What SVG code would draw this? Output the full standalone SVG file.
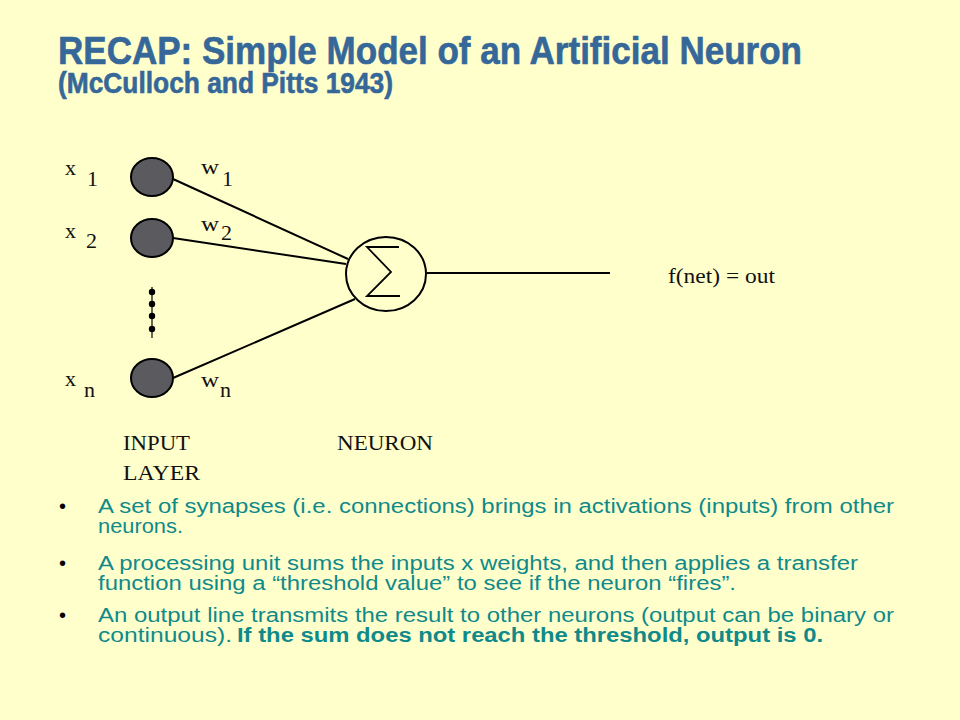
<svg xmlns="http://www.w3.org/2000/svg" width="960" height="720" viewBox="0 0 960 720">
<style>
.title{font-family:"Liberation Sans",Arial,sans-serif;font-weight:bold;fill:#356799;stroke:#356799;stroke-width:0.6}
.lbl{font-family:"Liberation Serif","Times New Roman",serif;fill:#111;font-size:22px}
.cap{font-family:"Liberation Serif","Times New Roman",serif;fill:#111;font-size:20px}
.body{font-family:"Liberation Sans",Arial,sans-serif;font-size:20px;fill:#0f8a8a}
.bul{font-family:"Liberation Sans",Arial,sans-serif;font-size:20px;fill:#000}
.inp{fill:#5b5b5f;stroke:#000;stroke-width:2}
.edge{stroke:#000;stroke-width:2;fill:none}
</style>
<rect width="960" height="720" fill="#ffffcc"/>
<text class="title" x="58" y="64" font-size="38" textLength="744" lengthAdjust="spacingAndGlyphs">RECAP: Simple Model of an Artificial Neuron</text>
<text class="title" x="58" y="93" font-size="29" textLength="335" lengthAdjust="spacingAndGlyphs">(McCulloch and Pitts 1943)</text>

<g id="connectors">
<line class="edge" x1="173" y1="179" x2="348" y2="259"/>
<line class="edge" x1="173" y1="238" x2="346" y2="264"/>
<line class="edge" x1="173" y1="378" x2="355" y2="299"/>
<line class="edge" x1="427" y1="273" x2="610" y2="273"/>
<line stroke="#000" stroke-width="1.2" x1="152" y1="287" x2="152" y2="338"/>
</g>

<g id="x1"><ellipse class="inp" cx="152" cy="177" rx="21" ry="19"/>
<text class="lbl" x="65" y="175" textLength="11" lengthAdjust="spacingAndGlyphs">x</text><text class="lbl" x="87" y="186">1</text></g>
<g id="x2"><ellipse class="inp" cx="152" cy="238" rx="21" ry="19"/>
<text class="lbl" x="65" y="238" textLength="11" lengthAdjust="spacingAndGlyphs">x</text><text class="lbl" x="86" y="248">2</text></g>
<g id="dots">
<circle cx="152" cy="292" r="3.2"/><circle cx="152" cy="304" r="3.2"/><circle cx="152" cy="316" r="3.2"/><circle cx="152" cy="329" r="3.2"/>
</g>
<g id="xn"><ellipse class="inp" cx="152" cy="378" rx="21" ry="19"/>
<text class="lbl" x="65" y="386" textLength="11" lengthAdjust="spacingAndGlyphs">x</text><text class="lbl" x="84" y="397">n</text></g>

<g id="w-labels">
<text class="lbl" x="201" y="174" textLength="18" lengthAdjust="spacingAndGlyphs">w</text><text class="lbl" x="222" y="186">1</text>
<text class="lbl" x="201" y="231" textLength="18" lengthAdjust="spacingAndGlyphs">w</text><text class="lbl" x="221" y="240">2</text>
<text class="lbl" x="201" y="387" textLength="18" lengthAdjust="spacingAndGlyphs">w</text><text class="lbl" x="220" y="397">n</text>
</g>

<g id="neuron">
<ellipse cx="386" cy="274" rx="40" ry="37" fill="none" stroke="#000" stroke-width="2"/>
<path d="M399,247 L367,247 L391,272 L367,296 L400,296" fill="none" stroke="#000" stroke-width="1.8"/>
</g>

<g id="output">
<text class="cap" x="668" y="283" textLength="107" lengthAdjust="spacingAndGlyphs">f(net) = out</text>
</g>

<text class="cap" x="123" y="450" textLength="67" lengthAdjust="spacingAndGlyphs">INPUT</text>
<text class="cap" x="123" y="480" textLength="77" lengthAdjust="spacingAndGlyphs">LAYER</text>
<text class="cap" x="337" y="450" textLength="96" lengthAdjust="spacingAndGlyphs">NEURON</text>

<g id="bullets">
<text class="bul" x="59" y="513">•</text>
<text class="body" x="98" y="513" textLength="796" lengthAdjust="spacingAndGlyphs">A set of synapses (i.e. connections) brings in activations (inputs) from other</text>
<text class="body" x="98" y="533" textLength="85" lengthAdjust="spacingAndGlyphs">neurons.</text>
<text class="bul" x="59" y="570">•</text>
<text class="body" x="98" y="570" textLength="760" lengthAdjust="spacingAndGlyphs">A processing unit sums the inputs x weights, and then applies a transfer</text>
<text class="body" x="98" y="590" textLength="638" lengthAdjust="spacingAndGlyphs">function using a “threshold value” to see if the neuron “fires”.</text>
<text class="bul" x="59" y="622">•</text>
<text class="body" x="98" y="622" textLength="796" lengthAdjust="spacingAndGlyphs">An output line transmits the result to other neurons (output can be binary or</text>
<text class="body" x="98" y="642" textLength="134" lengthAdjust="spacingAndGlyphs">continuous).</text>
<text class="body" x="237" y="642" font-weight="bold" textLength="586" lengthAdjust="spacingAndGlyphs">If the sum does not reach the threshold, output is 0.</text>
</g>
</svg>
